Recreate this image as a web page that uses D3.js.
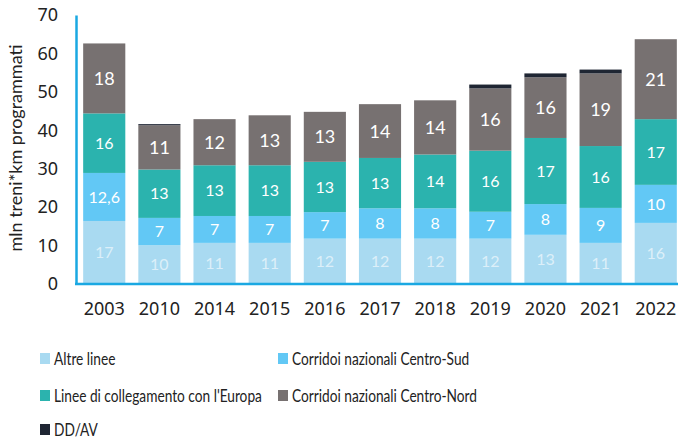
<!DOCTYPE html>
<html>
<head>
<meta charset="utf-8">
<script src="https://cdn.jsdelivr.net/npm/d3@7"></script>
<style>
  body { margin: 0; background: #fff; }
  svg text { font-family: Lato, "Noto Sans", sans-serif; }
  .num text { font-family: "Noto Sans", sans-serif; }
</style>
</head>
<body>
<div id="chart"></div>
<script>
// anni e serie (dal basso verso l'alto)
var anni = ["2003","2010","2014","2015","2016","2017","2018","2019","2020","2021","2022"];
var altreLinee   = [16.4, 10.1, 10.7, 10.7, 11.8, 11.8, 11.8, 11.8, 12.8, 10.7, 15.9];
var centroSud    = [12.5, 7.1, 7.0, 7.0, 6.9, 7.9, 7.9, 7.0, 8.0, 9.1, 9.9];
var europa       = [15.5, 12.6, 13.2, 13.2, 13.1, 13.1, 14.0, 15.9, 17.2, 16.1, 17.1];
var centroNord   = [18.2, 11.5, 12.0, 13.0, 13.0, 14.0, 14.1, 16.2, 15.8, 18.9, 20.8];
var ddav         = [0, 0.3, 0, 0, 0, 0, 0, 1.0, 1.0, 1.0, 0];

// etichette mostrate sulle barre
var lblAltre  = ["17","10","11","11","12","12","12","12","13","11","16"];
var lblSud    = ["12,6","7","7","7","7","8","8","7","8","9","10"];
var lblEuropa = ["16","13","13","13","13","13","14","16","17","16","17"];
var lblNord   = ["18","11","12","13","13","14","14","16","16","19","21"];

var yTicks = [0,10,20,30,40,50,60,70];

var serie = [
  {key:"altre", nome:"Altre linee", val:altreLinee, lbl:lblAltre, col:"#a9daf1", txt:"rgba(255,255,255,0.6)", fs:16},
  {key:"sud", nome:"Corridoi nazionali Centro-Sud", val:centroSud, lbl:lblSud, col:"#62c8f5", txt:"#fff", fs:16},
  {key:"europa", nome:"Linee di collegamento con l'Europa", val:europa, lbl:lblEuropa, col:"#2bb3ae", txt:"#fff", fs:16},
  {key:"nord", nome:"Corridoi nazionali Centro-Nord", val:centroNord, lbl:lblNord, col:"#777171", txt:"#fff", fs:18},
  {key:"dd", nome:"DD/AV", val:ddav, lbl:null, col:"#1f2633", txt:"#fff", fs:16}
];

var W = 678, H = 441;
var svg = d3.select("#chart").append("svg")
  .attr("width", W).attr("height", H);

var x = d3.scaleBand().domain(anni).range([76, 684]).paddingInner(0.236).paddingOuter(0.13);
var y = d3.scaleLinear().domain([0, 70]).range([284, 15]);

// tabella per lo stack
var table = anni.map(function(a, i) {
  var r = {anno: a, i: i};
  serie.forEach(function(s) { r[s.key] = s.val[i]; });
  return r;
});
var stack = d3.stack().keys(serie.map(function(s) { return s.key; }))(table);

var g = svg.append("g");
stack.forEach(function(layer, li) {
  var s = serie[li];
  g.append("g").selectAll("rect")
    .data(layer.filter(function(d) { return d[1] - d[0] > 0; }))
    .enter().append("rect")
    .attr("x", function(d) { return x(d.data.anno); })
    .attr("width", x.bandwidth())
    .attr("y", function(d) { return y(d[1]); })
    .attr("height", function(d) { return y(d[0]) - y(d[1]); })
    .attr("fill", s.col);

  if (s.lbl) {
    g.append("g").selectAll("text")
      .data(layer)
      .enter().append("text")
      .attr("x", function(d) { return x(d.data.anno) + x.bandwidth() / 2; })
      .attr("y", function(d) { return (y(d[0]) + y(d[1])) / 2; })
      .attr("dy", "0.36em")
      .attr("text-anchor", "middle")
      .attr("fill", s.txt)
      .style("font-size", s.fs + "px")
      .text(function(d) { return s.lbl[d.data.i]; });
  }
});

// assi
var yAxis = svg.append("g").attr("class", "num").attr("transform", "translate(76,0)")
  .call(d3.axisLeft(y).tickValues(yTicks).tickSize(0).tickPadding(18));
yAxis.select(".domain").attr("stroke", "#1aa8e2").attr("stroke-width", 2.5);
yAxis.selectAll("text").style("font-size", "18px").attr("fill", "#222");

var xAxis = svg.append("g").attr("class", "num").attr("transform", "translate(0,284)")
  .call(d3.axisBottom(x).tickSize(0).tickPadding(18));
xAxis.select(".domain").attr("d", "M75,0H678").attr("stroke", "#1aa8e2").attr("stroke-width", 2.5);
xAxis.selectAll("text").style("font-size", "18px").attr("fill", "#222");

svg.append("text")
  .attr("transform", "translate(22,148) rotate(-90)")
  .attr("text-anchor", "middle")
  .attr("fill", "#222")
  .style("font-size", "18px")
  .text("mln treni*km programmati");

// legenda
var legPos = [[40,359],[278,359],[40,396],[278,396],[40,430]];
var leg = svg.append("g").selectAll("g")
  .data(serie)
  .enter().append("g")
  .attr("transform", function(d, i) { return "translate(" + legPos[i][0] + "," + legPos[i][1] + ")"; });
leg.append("rect").attr("x", 0).attr("y", -6).attr("width", 10).attr("height", 11)
  .attr("fill", function(d) { return d.col; });
leg.append("text").attr("transform", "translate(14,0) scale(0.83,1)").attr("dy", "0.36em")
  .attr("fill", "#222").style("font-size", "16.5px")
  .text(function(d) { return d.nome; });
</script>
</body>
</html>
